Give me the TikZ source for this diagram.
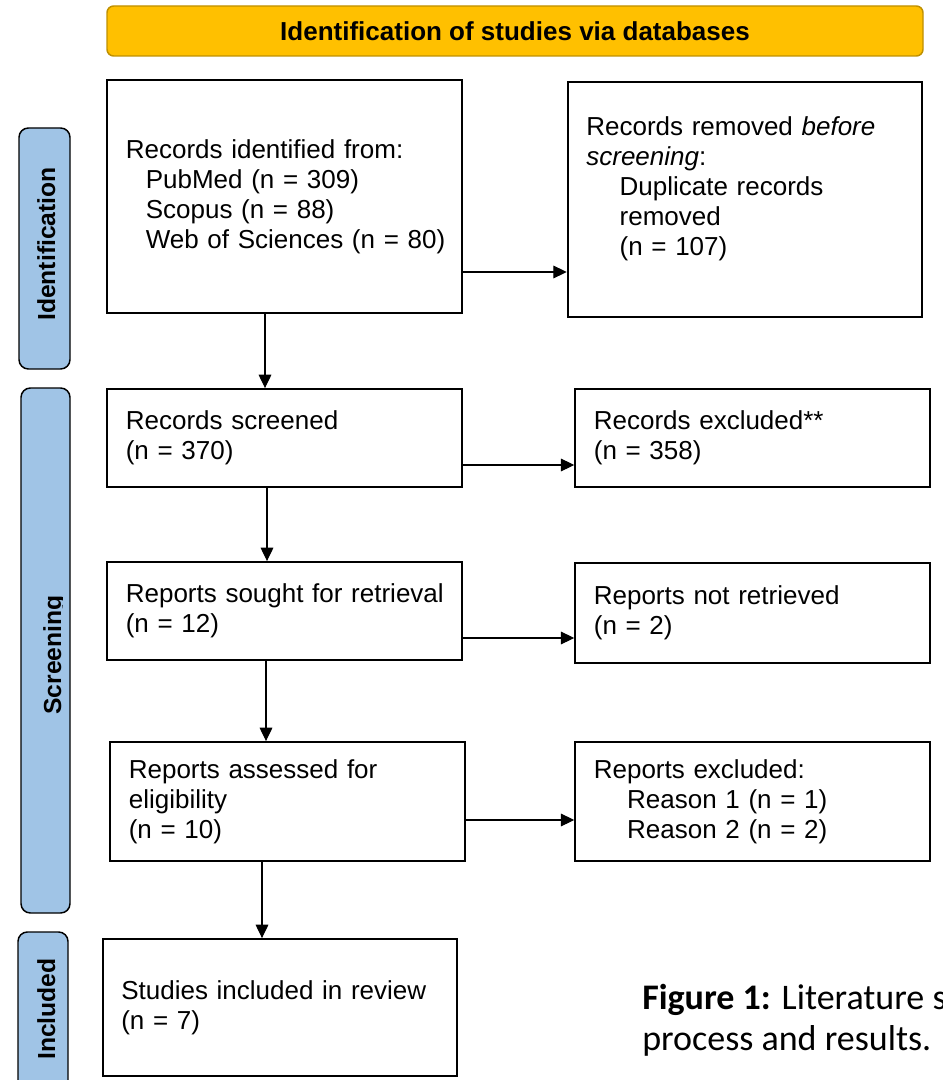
\documentclass[tikz,border=0pt]{standalone}
\usepackage{fontspec}
\setmainfont{Liberation Sans}
\newfontfamily\capfont{Carlito}
\usetikzlibrary{arrows.meta}
\definecolor{headgold}{RGB}{255,192,0}
\definecolor{headedge}{RGB}{191,144,0}
\definecolor{phaseblue}{RGB}{160,196,230}

\begin{document}
\begin{tikzpicture}
    [x=0.75pt,y=-0.75pt,
    every node/.style={font=\fontsize{19.5pt}{22.5pt}\selectfont},
    stage/.style={draw,line width=1.4pt,inner xsep=14pt,text width=238pt,align=left},
    phase/.style={draw=black,line width=1.1pt,fill=phaseblue,rounded corners=7pt},
    phaselabel/.style={rotate=90,anchor=base,inner sep=0pt,font=\bfseries\fontsize{18.5pt}{22pt}\selectfont},
    flow/.style={line width=0.8pt,-{Triangle[length=10pt,width=9.5pt]}}]
    \useasboundingbox (0,0) rectangle (942,1080);
    \clip (0,0) rectangle (942,1080);
    %header
    \node[draw=headedge,fill=headgold,line width=1.1pt,rounded corners=5pt,minimum width=612pt,minimum height=37.5pt,font=\bfseries\fontsize{19.5pt}{22.5pt}\selectfont] (head) at (515,31) {Identification of studies via databases};
    %phase bars
    \draw[phase] (19,128) rectangle (70,369);
    \draw[phase] (21,388) rectangle (70,913);
    \draw[phase] (18,932) rectangle (68,1110);
    \node[phaselabel] (idlabel) at (55,244) {Identification};
    \begin{scope}
    \clip (21,388) rectangle (62,913);
    \node[phaselabel] (scrlabel) at (61,655) {Screening};
    \end{scope}
    \node[phaselabel] (inclabel) at (55,1009) {Included};
    %left column
    \node[stage,minimum height=174.75pt] (ident) at (284.5,196.5) {Records identified from:\\
    \hspace*{15pt}PubMed (n = 309)\\
    \hspace*{15pt}Scopus (n = 88)\\
    \hspace*{15pt}\mbox{Web of Sciences (n = 80)}};
    \node[stage,minimum height=73.5pt] (screened) at (284.5,438) {Records screened\\(n = 370)};
    \node[stage,minimum height=73.5pt] (sought) at (284.5,611) {\mbox{Reports sought for retrieval}\\(n = 12)};
    \node[stage,minimum height=89.25pt] (assessed) at (287.5,801.5) {Reports assessed for\\eligibility\\(n = 10)};
    \node[stage,minimum height=102.75pt] (included) at (280,1007.5) {Studies included in review\\(n = 7)};
    %right column
    \node[stage,minimum height=176.25pt] (removed) at (745,199.5) {Records removed \textit{before}\\
    \textit{screening}:\\
    \hspace*{25pt}Duplicate records\\
    \hspace*{25pt}removed\\
    \hspace*{25pt}(n = 107)\rule[-20pt]{0pt}{20pt}};
    \node[stage,minimum height=73.5pt] (excluded) at (752.5,438) {Records excluded**\\(n = 358)};
    \node[stage,minimum height=75pt] (notretrieved) at (752.5,613) {Reports not retrieved\\(n = 2)};
    \node[stage,minimum height=89.25pt] (repexcluded) at (752.5,801.5) {Reports excluded:\\
    \hspace*{25pt}Reason 1 (n = 1)\\
    \hspace*{25pt}Reason 2 (n = 2)};
    %arrows
    \coordinate (rowa) at (0,272);
    \coordinate (rowb) at (0,465);
    \coordinate (rowc) at (0,638);
    \coordinate (rowd) at (0,820);
    \coordinate (cola) at (265,0);
    \coordinate (colb) at (267,0);
    \coordinate (colc) at (266,0);
    \coordinate (cold) at (262,0);
    \draw[flow] (ident.east |- rowa) -- (removed.west |- rowa);
    \draw[flow] (screened.east |- rowb) -- (excluded.west |- rowb);
    \draw[flow] (sought.east |- rowc) -- (notretrieved.west |- rowc);
    \draw[flow] (assessed.east |- rowd) -- (repexcluded.west |- rowd);
    \draw[flow] (ident.south -| cola) -- (screened.north -| cola);
    \draw[flow] (screened.south -| colb) -- (sought.north -| colb);
    \draw[flow] (sought.south -| colc) -- (assessed.north -| colc);
    \draw[flow] (assessed.south -| cold) -- (included.north -| cold);
    %caption
    \node[anchor=north west,inner sep=0pt,align=left,font=\capfont\fontsize{27pt}{30.75pt}\selectfont] (caption) at (642,984) {\textbf{Figure 1:} Literature s\\process and results.};
\end{tikzpicture}
\end{document}
